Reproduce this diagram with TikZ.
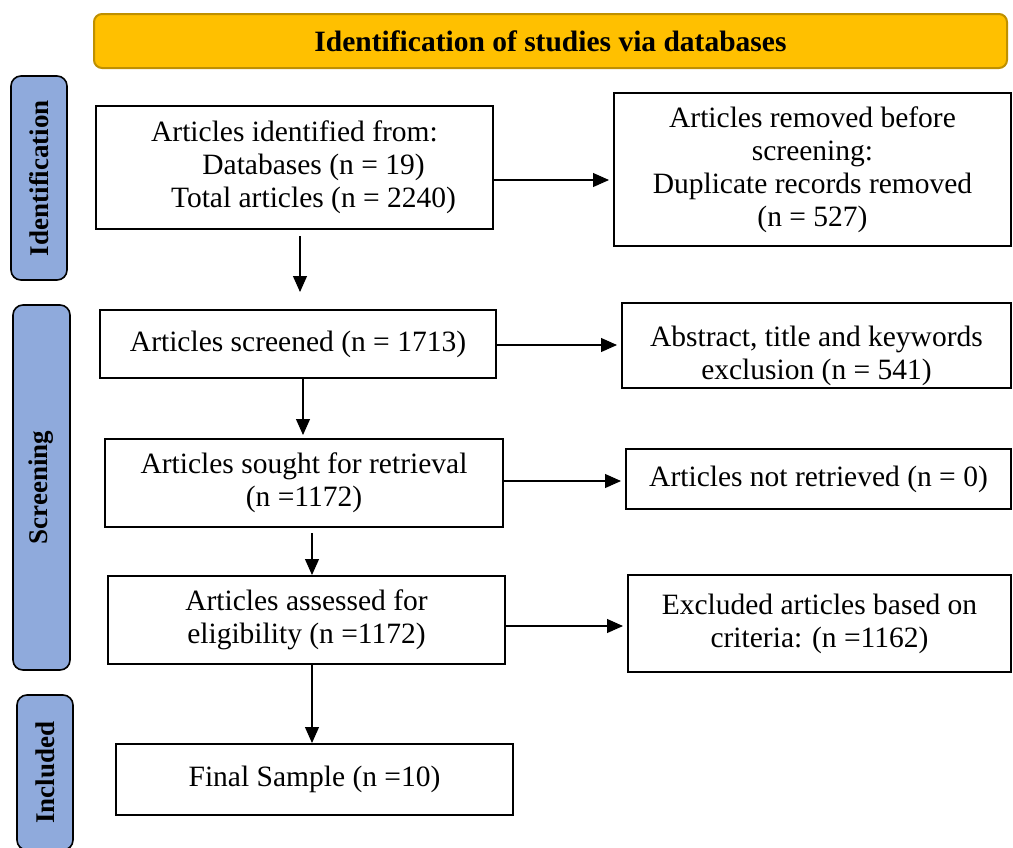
\documentclass[tikz,border=0pt]{standalone}
\usepackage{fontspec}
\setmainfont{Liberation Serif}
\usetikzlibrary{arrows.meta}
\definecolor{headfill}{HTML}{FFC000}
\definecolor{headdraw}{HTML}{BF9000}
\definecolor{phasefill}{HTML}{8FAADC}
\begin{document}
\begin{tikzpicture}[x=1pt, y=-1pt, font=\fontsize{29.5}{33}\selectfont,
                    box/.style={draw, line width=2pt, align=center, inner sep=2pt},
                    phase/.style={draw, line width=1.6pt, fill=phasefill, rounded corners=10pt,
                                  rotate=90, font=\fontsize{27}{30}\selectfont\bfseries},
                    arr/.style={line width=1.1pt, -{Triangle[length=16pt, width=14pt]}}]
\useasboundingbox (0,0) rectangle (1013,847);
\node[draw=headdraw, line width=2pt, fill=headfill, rounded corners=8pt,
      minimum width=913pt, minimum height=54pt, font=\fontsize{29.5}{33}\selectfont\bfseries]
      (head) at (550.5,41) {Identification of studies via databases};
% phases
\node[phase, minimum width=204pt, minimum height=56pt] (ident) at (39,178) {Identification};
\node[phase, minimum width=365pt, minimum height=57pt] (screen) at (41.5,487.5) {Screening};
\node[phase, minimum width=155pt, minimum height=56pt] (incl) at (45,772.5) {Included};
% main column
\node[box, minimum width=397pt, minimum height=123pt] (found) at (294.5,167.5)
      {Articles identified from:\\ \hspace*{38pt}Databases (n = 19)\\ \hspace*{38pt}Total articles (n = 2240)};
\node[box, minimum width=396pt, minimum height=68pt] (screened) at (298,344) {Articles screened (n = 1713)};
\node[box, minimum width=398pt, minimum height=88pt] (sought) at (304,483)
      {Articles sought for retrieval\\ (n =1172)};
\node[box, minimum width=397pt, minimum height=88pt] (assessed) at (306.5,620)
      {Articles assessed for\\ eligibility (n =1172)};
\node[box, minimum width=397pt, minimum height=71pt] (final) at (314.5,779.5) {Final Sample (n =10)};
% side column
\node[box, minimum width=397pt, minimum height=153pt] (removed) at (812.5,169.5)
      {Articles removed before\\ screening:\\ Duplicate records removed\\ (n = 527)};
\node[box, minimum width=389pt, minimum height=83pt] (abstract) at (816.5,345.5)
      {\rule{0pt}{42pt}Abstract, title and keywords\\ exclusion (n = 541)};
\node[box, minimum width=385pt, minimum height=60pt] (notret) at (818.5,479) {Articles not retrieved (n = 0)};
\node[box, minimum width=383pt, minimum height=97pt] (excluded) at (819.5,623.5)
      {Excluded articles based on\\ criteria: (n =1162)};
% arrows
\draw[arr, shorten >=4pt] (found.east |- 0,180) -- (removed.west |- 0,180);
\draw[arr, shorten >=4pt] (screened.east |- 0,345) -- (abstract.west |- 0,345);
\draw[arr, shorten >=4pt] (sought.east |- 0,481) -- (notret.west |- 0,481);
\draw[arr, shorten >=4pt] (assessed.east |- 0,626) -- (excluded.west |- 0,626);
\draw[arr, shorten <=6pt, shorten >=17pt] (found.south -| 300,0) -- (screened.north -| 300,0);
\draw[arr, shorten >=3pt] (screened.south -| 303,0) -- (sought.north -| 303,0);
\draw[arr, shorten <=5pt] (sought.south -| 312,0) -- (assessed.north -| 312,0);
\draw[arr] (assessed.south -| 312,0) -- (final.north -| 312,0);
\end{tikzpicture}
\end{document}
